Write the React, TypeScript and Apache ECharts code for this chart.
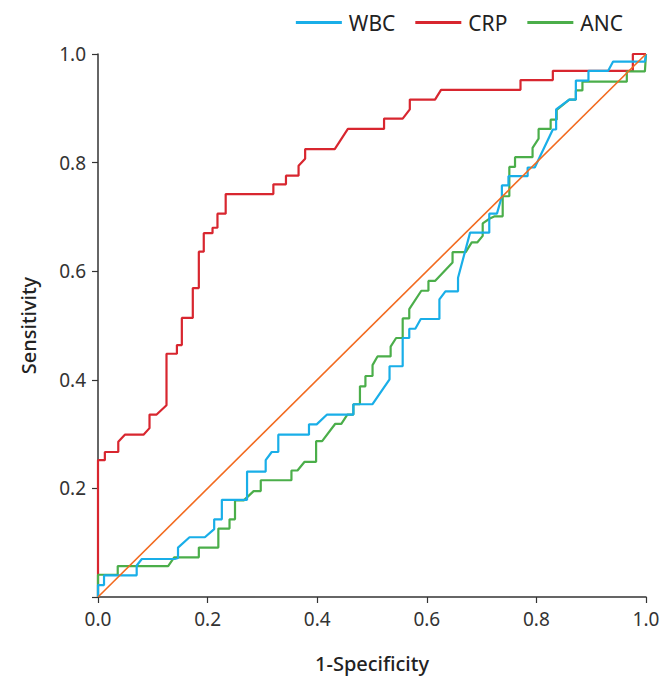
import React, { useEffect, useRef } from "react";
import * as echarts from "echarts";

const seriesNames = ["WBC", "CRP", "ANC"];
const seriesColors = ["#19AEE8", "#D8262F", "#4BAE4A"];
const diagonalColor = "#F26A1F";
const xTicks = [0, 0.2, 0.4, 0.6, 0.8, 1.0];

const wbc: number[][] = [
  [0, 0], [0, 0.022], [0.011, 0.022], [0.011, 0.04], [0.0706, 0.04], [0.0706, 0.058],
  [0.08, 0.07], [0.14, 0.07], [0.146, 0.072], [0.146, 0.091], [0.167, 0.11], [0.195, 0.11],
  [0.212, 0.125], [0.212, 0.143], [0.226, 0.143], [0.226, 0.179], [0.272, 0.179], [0.272, 0.231],
  [0.306, 0.231], [0.306, 0.252], [0.317, 0.267], [0.329, 0.267], [0.329, 0.299], [0.385, 0.299],
  [0.385, 0.318], [0.399, 0.318], [0.418, 0.336], [0.466, 0.336], [0.466, 0.355], [0.501, 0.355],
  [0.532, 0.401], [0.532, 0.425], [0.556, 0.425], [0.556, 0.477], [0.568, 0.477], [0.568, 0.494],
  [0.579, 0.494], [0.589, 0.512], [0.623, 0.512], [0.623, 0.548], [0.634, 0.563], [0.657, 0.563],
  [0.657, 0.588], [0.679, 0.671], [0.714, 0.671], [0.714, 0.706], [0.728, 0.706], [0.737, 0.738],
  [0.737, 0.758], [0.749, 0.758], [0.749, 0.775], [0.784, 0.775], [0.784, 0.791], [0.797, 0.791],
  [0.83, 0.861], [0.836, 0.861], [0.836, 0.898], [0.86, 0.916], [0.872, 0.916], [0.872, 0.951],
  [0.895, 0.951], [0.895, 0.969], [0.931, 0.969], [0.94, 0.986], [0.998, 0.986], [1.0, 1.0],
];

const crp: number[][] = [
  [0, 0], [0, 0.252], [0.0125, 0.252], [0.0125, 0.267], [0.037, 0.267], [0.037, 0.286],
  [0.049, 0.299], [0.083, 0.299], [0.094, 0.311], [0.094, 0.336], [0.107, 0.336], [0.125, 0.353],
  [0.125, 0.448], [0.144, 0.448], [0.144, 0.464], [0.153, 0.464], [0.153, 0.514], [0.173, 0.514],
  [0.173, 0.569], [0.184, 0.569], [0.184, 0.636], [0.193, 0.636], [0.193, 0.67], [0.209, 0.67],
  [0.209, 0.68], [0.218, 0.68], [0.218, 0.706], [0.233, 0.706], [0.233, 0.742], [0.32, 0.742],
  [0.32, 0.76], [0.343, 0.76], [0.343, 0.776], [0.366, 0.776], [0.366, 0.794], [0.378, 0.807],
  [0.378, 0.825], [0.432, 0.825], [0.456, 0.862], [0.522, 0.862], [0.522, 0.881], [0.556, 0.881],
  [0.569, 0.898], [0.569, 0.916], [0.615, 0.916], [0.626, 0.934], [0.771, 0.934], [0.771, 0.952],
  [0.83, 0.952], [0.83, 0.969], [0.976, 0.969], [0.976, 1.0], [1.0, 1.0],
];

const anc: number[][] = [
  [0, 0], [0, 0.041], [0.036, 0.041], [0.036, 0.057], [0.128, 0.057], [0.139, 0.073],
  [0.184, 0.073], [0.184, 0.091], [0.2196, 0.091], [0.2196, 0.126], [0.24, 0.126], [0.24, 0.143],
  [0.25, 0.143], [0.25, 0.178], [0.266, 0.178], [0.284, 0.195], [0.297, 0.195], [0.297, 0.215],
  [0.353, 0.215], [0.353, 0.233], [0.364, 0.233], [0.377, 0.249], [0.398, 0.249], [0.398, 0.287],
  [0.409, 0.287], [0.433, 0.319], [0.444, 0.319], [0.455, 0.336], [0.466, 0.336], [0.466, 0.355],
  [0.478, 0.355], [0.478, 0.388], [0.488, 0.388], [0.488, 0.407], [0.501, 0.407], [0.501, 0.427],
  [0.51, 0.443], [0.534, 0.443], [0.534, 0.461], [0.544, 0.477], [0.556, 0.477], [0.556, 0.513],
  [0.568, 0.513], [0.568, 0.53], [0.59, 0.564], [0.603, 0.564], [0.603, 0.582], [0.615, 0.582],
  [0.647, 0.616], [0.647, 0.635], [0.671, 0.635], [0.682, 0.653], [0.692, 0.653], [0.702, 0.665],
  [0.702, 0.688], [0.715, 0.697], [0.724, 0.701], [0.7385, 0.701], [0.7385, 0.738], [0.7506, 0.738],
  [0.7506, 0.792], [0.761, 0.792], [0.761, 0.81], [0.793, 0.81], [0.793, 0.827], [0.804, 0.844],
  [0.804, 0.862], [0.826, 0.862], [0.826, 0.879], [0.837, 0.879], [0.837, 0.897], [0.86, 0.916],
  [0.872, 0.916], [0.872, 0.933], [0.884, 0.933], [0.884, 0.949], [0.965, 0.949], [0.965, 0.968],
  [0.998, 0.968], [1.0, 1.0],
];

const diagonal: number[][] = [[0, 0], [1, 1]];

const FONT = "'Noto Sans', 'Open Sans', sans-serif";

export default function App() {
  const ref = useRef<HTMLDivElement>(null);
  useEffect(() => {
    if (!ref.current) return;
    const chart = echarts.init(ref.current, undefined, { renderer: "svg" });
    const datasets = [wbc, crp, anc];
    const zs = [4, 2, 3];
    chart.setOption({
      animation: false,
      backgroundColor: "#ffffff",
      textStyle: { fontFamily: FONT },
      legend: {
        data: seriesNames,
        icon: "rect",
        right: 37,
        top: 7,
        itemWidth: 46,
        itemHeight: 3,
        itemGap: 20,
        textStyle: { fontSize: 21, color: "#222", fontFamily: FONT, padding: [0, 0, 0, 2] },
      },
      grid: { left: 98, right: 19, top: 54, bottom: 79, containLabel: false },
      xAxis: {
        type: "value",
        min: 0,
        max: 1,
        interval: 0.2,
        name: "1-Specificity",
        nameLocation: "middle",
        nameGap: 56,
        nameTextStyle: { fontSize: 20, fontWeight: 500, color: "#222", fontFamily: FONT },
        axisLine: { show: true, lineStyle: { color: "#333", width: 1.5 } },
        axisTick: { show: true, length: 6, lineStyle: { color: "#333", width: 1.2 } },
        axisLabel: {
          fontSize: 19,
          color: "#333",
          margin: 12,
          formatter: (v: number) => v.toFixed(1),
        },
        splitLine: { show: false },
      },
      yAxis: {
        type: "value",
        min: 0,
        max: 1,
        interval: 0.2,
        name: "Sensitivity",
        nameLocation: "middle",
        nameGap: 60,
        nameTextStyle: { fontSize: 20, fontWeight: 500, color: "#222", fontFamily: FONT },
        axisLine: { show: true, lineStyle: { color: "#333", width: 1.5 } },
        axisTick: { show: true, length: 6, lineStyle: { color: "#333", width: 1.2 } },
        axisLabel: {
          fontSize: 19,
          color: "#333",
          margin: 12,
          formatter: (v: number) => (v === 0 ? "" : v.toFixed(1)),
        },
        splitLine: { show: false },
      },
      series: [
        ...seriesNames.map((name, i) => ({
          name,
          type: "line",
          data: datasets[i],
          symbol: "none",
          z: zs[i],
          color: seriesColors[i],
          itemStyle: { color: seriesColors[i] },
          lineStyle: { color: seriesColors[i], width: 2.2 },
        })),
        {
          name: "Reference",
          type: "line",
          data: diagonal,
          symbol: "none",
          z: 5,
          color: diagonalColor,
          lineStyle: { color: diagonalColor, width: 1.6 },
        },
      ],
    });
    return () => chart.dispose();
  }, []);
  return (
    <div
      ref={ref}
      style={{ position: "fixed", left: 0, top: 0, width: 665, height: 678, background: "#fff" }}
    />
  );
}
